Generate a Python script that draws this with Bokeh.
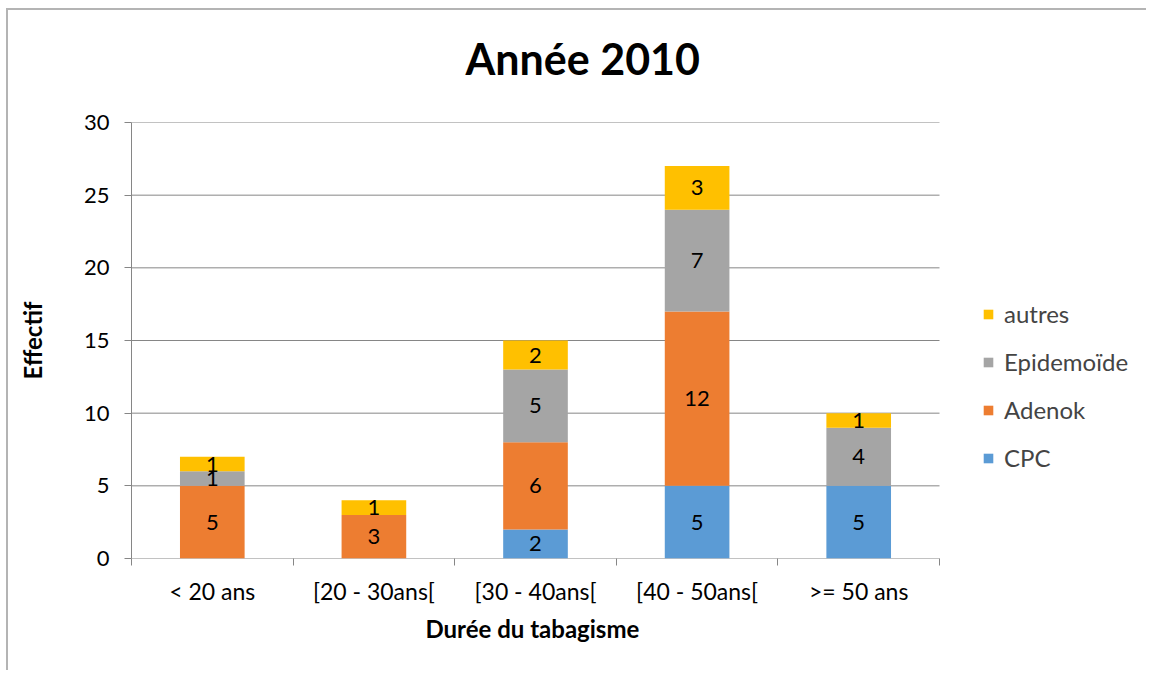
from bokeh.plotting import figure
from bokeh.models import ColumnDataSource, FixedTicker, Legend, LegendItem, Range1d, Title
from bokeh.embed import file_html
from bokeh.resources import INLINE
from bokeh.core.properties import value

categories = ["< 20 ans", "[20 - 30ans[", "[30 - 40ans[", "[40 - 50ans[", ">= 50 ans"]
series_names = ["CPC", "Adenok", "Epidemoïde", "autres"]
cpc = [0, 0, 2, 5, 5]
adenok = [5, 3, 6, 12, 0]
epidemoide = [1, 0, 5, 7, 4]
autres = [1, 1, 2, 3, 1]
colors = ["#5B9BD5", "#ED7D31", "#A5A5A5", "#FFC000"]
y_ticks = [0, 5, 10, 15, 20, 25, 30]

FONT = "Lato"
GRAY = "#868686"

# plot area: categories occupy 808 px of a 1017 px wide frame; the rest holds the legend
n = len(categories)
x_end = n * 1017 / 808

p = figure(width=1140, height=662, output_backend="svg", toolbar_location=None,
           x_range=Range1d(0, x_end), y_range=Range1d(0, 30),
           min_border_left=123, min_border_right=0, min_border_top=111, min_border_bottom=114)
p.styles = {"margin-left": "6px", "margin-top": "8px",
            "border-top": "2px solid #b4b4b4", "border-left": "2px solid #b4b4b4"}
p.outline_line_color = None

# horizontal gridlines (limited to the category area)
grid_src = ColumnDataSource(dict(y=y_ticks, x0=[0] * len(y_ticks), x1=[n] * len(y_ticks)))
p.segment(x0="x0", x1="x1", y0="y", y1="y", source=grid_src, line_color=GRAY, line_width=1)

xs = [i + 0.5 for i in range(n)]
all_series = [cpc, adenok, epidemoide, autres]
bottom = [0] * n
renderers = []
lx, ly, lt = [], [], []
for name, vals, col in zip(series_names, all_series, colors):
    top = [b + v for b, v in zip(bottom, vals)]
    src = ColumnDataSource(dict(x=xs, bottom=bottom, top=top))
    r = p.vbar(x="x", bottom="bottom", top="top", width=0.4, source=src,
               fill_color=col, line_color=None)
    renderers.append((name, r))
    for x, b, v in zip(xs, bottom, vals):
        if v > 0:
            lx.append(x)
            ly.append(b + v / 2)
            lt.append(str(v))
    bottom = top

lab_src = ColumnDataSource(dict(x=lx, y=ly, t=lt))
p.text(x="x", y="y", text="t", source=lab_src, text_align="center", text_baseline="middle",
       text_font=value(FONT), text_font_size="22px", text_color="#000000")

# x axis
p.xaxis.ticker = FixedTicker(ticks=xs, minor_ticks=list(range(n + 1)))
p.xaxis.major_label_overrides = {x: c for x, c in zip(xs, categories)}
p.xaxis.major_tick_out = 0
p.xaxis.major_tick_in = 0
p.xaxis.minor_tick_out = 7
p.xaxis.minor_tick_in = 0
p.xaxis.minor_tick_line_color = GRAY
p.xaxis.axis_line_color = None
p.xaxis.major_label_standoff = 11
p.xaxis.major_label_text_font = FONT
p.xaxis.major_label_text_font_size = "23px"
p.xaxis.major_label_text_color = "#000000"

# y axis
p.yaxis.ticker = FixedTicker(ticks=y_ticks)
p.yaxis.major_tick_out = 7
p.yaxis.major_tick_in = 0
p.yaxis.minor_tick_line_color = None
p.yaxis.major_tick_line_color = GRAY
p.yaxis.axis_line_color = GRAY
p.yaxis.major_label_standoff = 15
p.yaxis.major_label_text_font = FONT
p.yaxis.major_label_text_font_size = "22px"
p.yaxis.major_label_text_color = "#000000"
p.yaxis.axis_label = "Effectif"
p.yaxis.axis_label_standoff = 34
p.yaxis.axis_label_text_font = FONT
p.yaxis.axis_label_text_font_size = "24px"
p.yaxis.axis_label_text_font_style = "bold"
p.yaxis.axis_label_text_color = "#000000"

p.xgrid.grid_line_color = None
p.ygrid.grid_line_color = None

# x axis title, centred under the category area
p.add_layout(Title(text="Durée du tabagisme", align="left", offset=294, standoff=8,
                   padding=(0, 2, 0, 0),
                   text_font=FONT, text_font_size="24px", text_font_style="bold",
                   text_color="#000000"), "below")

# title
p.title.text = "Année 2010"
p.title.text_font = FONT
p.title.text_font_size = "43px"
p.title.text_font_style = "bold"
p.title.text_color = "#000000"
p.title.align = "left"
p.title.offset = 334
p.title.standoff = 40
p.title.padding = (0, 0, 0, 19)

legend = Legend(items=[LegendItem(label=nm, renderers=[r]) for nm, r in reversed(renderers)],
                location=(851, 86), orientation="vertical",
                glyph_width=12, glyph_height=12, label_height=20, spacing=19,
                label_standoff=10, padding=0, margin=0,
                border_line_color=None, background_fill_alpha=0,
                label_text_font=FONT, label_text_font_size="24px")
p.add_layout(legend, "center")

open("out.html", "w").write(file_html(p, INLINE))
